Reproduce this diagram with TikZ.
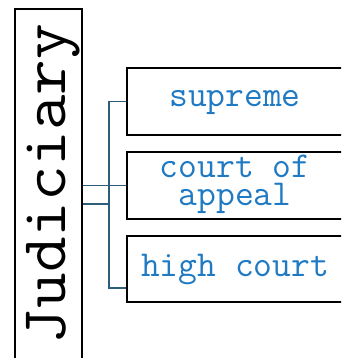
\documentclass[tikz,border=0pt]{standalone}
\usepackage{fontspec}
\usepackage{graphicx}
\usetikzlibrary{calc}
\definecolor{conncol}{HTML}{2C5E7C}
\definecolor{textcol}{HTML}{1F7AC3}
\tikzset{
  box/.style={draw=black, line width=1.6pt, rectangle, inner sep=0pt},
  item/.style={box, minimum width=218pt, minimum height=67pt},
  lbl/.style={inner sep=0pt, anchor=base, text=textcol, font=\ttfamily\fontsize{36.5pt}{36.5pt}\selectfont},
  conn/.style={draw=conncol, line width=1.8pt},
}
\begin{document}
\begin{tikzpicture}[x=1pt,y=-1pt]
\useasboundingbox (0,0) rectangle (341,358);
\clip (0,0) rectangle (341,358);
\node[box, minimum width=67pt, minimum height=361pt] (jud) at (48.5,189.5) {};
\node[inner sep=0pt, rotate=90, anchor=base, font=\ttfamily\fontsize{64pt}{64pt}\selectfont] (judt) at (65,184)
  {\scalebox{1.08}[1]{Judiciary}};
\node[item] (b1) at (236,101.5) {};
\node[item] (b2) at (236,185.5) {};
\node[item, minimum height=66pt] (b3) at (236,269) {};
\node[lbl] (t1) at (235,106.7) {supreme};
\node[lbl] (t2a) at (235,177.3) {court of};
\node[lbl] (t2b) at (235,205) {appeal};
\node[lbl] (t3) at (235,276) {high court};
\coordinate (fork) at (109,204);
\coordinate (b3in) at ($(b3.south west)+(0,-15)$);
\draw[conn] (jud.east |- b2.west) -- (b2.west);
\draw[conn] (jud.east |- fork) -- (fork);
\draw[conn] (b1.west) -| (fork);
\draw[conn] (fork) |- (b3.south west |- b3in);
\end{tikzpicture}
\end{document}
